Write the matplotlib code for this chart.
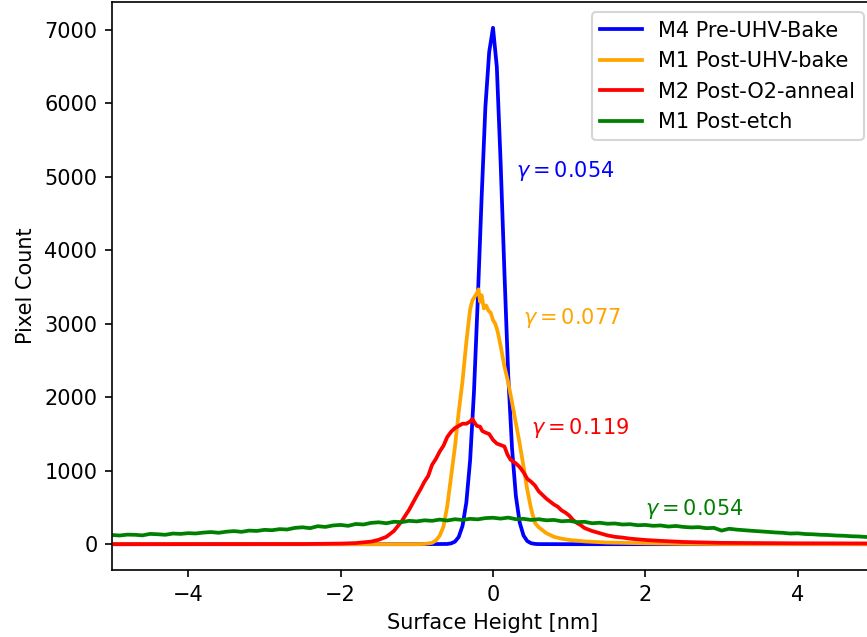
#!/usr/bin/env python3
"""Histogramas de altura superficial (AFM) para cuatro muestras, con su rugosidad gamma."""
import matplotlib
matplotlib.use("Agg")
import matplotlib.pyplot as plt

OUT = "out.png"
DPI = 150

# M4 Pre-UHV-Bake (azul)
x_pre_bake = [-5, -1, -0.6, -0.55, -0.5, -0.45, -0.4, -0.35, -0.3, -0.25, -0.2, -0.15,
              -0.1, -0.05, 0, 0.05, 0.1, 0.15, 0.2, 0.25, 0.3, 0.35, 0.4, 0.45, 0.5,
              0.55, 0.6, 1, 5]
y_pre_bake = [0, 0, 3, 11, 34, 98, 249, 566, 1146, 2068, 3324, 4700,
              5950, 6700, 7030, 6500, 5200, 3700, 2294, 1302, 657, 296, 119, 42, 13,
              4, 1, 0, 0]

# M1 Post-UHV-bake (naranja)
x_post_bake = [-5, -1.0, -0.9, -0.8, -0.75, -0.7, -0.65, -0.6, -0.55, -0.5, -0.45, -0.4,
               -0.35, -0.3, -0.27, -0.24, -0.21, -0.19, -0.17, -0.15, -0.12, -0.09, -0.06,
               -0.03, 0.0, 0.03, 0.06, 0.1, 0.15, 0.2, 0.25, 0.3, 0.35, 0.4, 0.45, 0.5,
               0.55, 0.6, 0.7, 0.8, 0.9, 1.0, 1.2, 1.5, 2.0, 2.5, 3.0, 5]
y_post_bake = [0, 0, 3, 18, 50, 115, 240, 520, 920, 1320, 1800, 2220,
               2750, 3200, 3320, 3370, 3420, 3470, 3300, 3390, 3210, 3250, 3180,
               3150, 3050, 3000, 2900, 2700, 2420, 2200, 1930, 1650, 1370, 1060, 740, 480,
               290, 230, 150, 100, 75, 58, 38, 22, 12, 5, 2, 0]

# M2 Post-O2-anneal (rojo)
x_anneal = [-5, -2.5, -2.0, -1.8, -1.6, -1.5, -1.4, -1.3, -1.2, -1.1, -1.0, -0.95, -0.9,
            -0.85, -0.8, -0.75, -0.7, -0.65, -0.6, -0.55, -0.5, -0.45, -0.4, -0.35, -0.3,
            -0.27, -0.24, -0.21, -0.17, -0.14, -0.1, -0.05, 0.0, 0.05, 0.1, 0.15, 0.19,
            0.23, 0.3, 0.35, 0.4, 0.45, 0.5, 0.55, 0.6, 0.65, 0.7, 0.75, 0.8, 0.85, 0.9,
            0.95, 1.0, 1.05, 1.1, 1.15, 1.2, 1.3, 1.4, 1.5, 1.6, 1.7, 1.8, 2.0, 2.2, 2.5,
            3.0, 3.5, 4.0, 5.0]
y_anneal = [0, 2, 8, 15, 35, 60, 100, 180, 310, 470, 660, 750, 850,
            930, 1080, 1160, 1260, 1340, 1460, 1530, 1580, 1610, 1640, 1640, 1670,
            1705, 1650, 1610, 1600, 1540, 1520, 1500, 1420, 1370, 1350, 1330, 1220,
            1150, 1100, 1050, 980, 890, 850, 800, 720, 670, 620, 580, 540, 510, 460,
            430, 390, 330, 290, 260, 220, 180, 150, 120, 100, 90, 75, 57, 45, 30,
            18, 15, 12, 10]

# M1 Post-etch (verde), paso de 0.1 nm
x_etch = [round(-5.0 + 0.1 * i, 1) for i in range(101)]
y_etch = [125, 118, 130, 128, 120, 140, 135, 128, 145, 140, 150,
          146, 158, 165, 155, 170, 178, 168, 185, 180, 195,
          190, 205, 200, 222, 230, 218, 245, 235, 255, 262,
          250, 275, 268, 290, 298, 285, 305, 300, 318, 310,
          325, 318, 335, 322, 340, 330, 345, 338, 355, 360,
          348, 362, 340, 345, 330, 340, 325, 330, 312, 318,
          300, 305, 285, 292, 278, 282, 268, 272, 258, 262,
          250, 255, 240, 248, 235, 228, 232, 218, 222, 185,
          210, 198, 190, 182, 175, 168, 160, 155, 145, 148,
          138, 135, 128, 125, 118, 115, 108, 105, 98, 95]

labels = ["M4 Pre-UHV-Bake", "M1 Post-UHV-bake", "M2 Post-O2-anneal", "M1 Post-etch"]
colors = ["blue", "orange", "red", "green"]
gammas = [0.054, 0.077, 0.119, 0.054]
gamma_pos = [(0.3, 5000), (0.4, 3000), (0.5, 1500), (2.0, 400)]


def main():
    fig = plt.figure(figsize=(867 / DPI, 637 / DPI), dpi=DPI)
    # el eje se sale por la derecha, como en la figura original recortada
    ax = fig.add_axes([112 / 867, 67 / 637, 762 / 867, 568 / 637])

    series = [(x_pre_bake, y_pre_bake), (x_post_bake, y_post_bake),
              (x_anneal, y_anneal), (x_etch, y_etch)]
    for (xs, ys), lab, c in zip(series, labels, colors):
        ax.plot(xs, ys, color=c, label=lab, lw=1.8)

    for g, (gx, gy), c in zip(gammas, gamma_pos, colors):
        ax.text(gx, gy, r"$\gamma = %.3f$" % g, color=c, fontsize=10)

    ax.set_xlim(-5, 5)
    ax.set_xlabel("Surface Height [nm]")
    ax.set_ylabel("Pixel Count")
    ax.legend(loc="upper right")

    fig.savefig(OUT, dpi=DPI, facecolor="white")


if __name__ == "__main__":
    main()
